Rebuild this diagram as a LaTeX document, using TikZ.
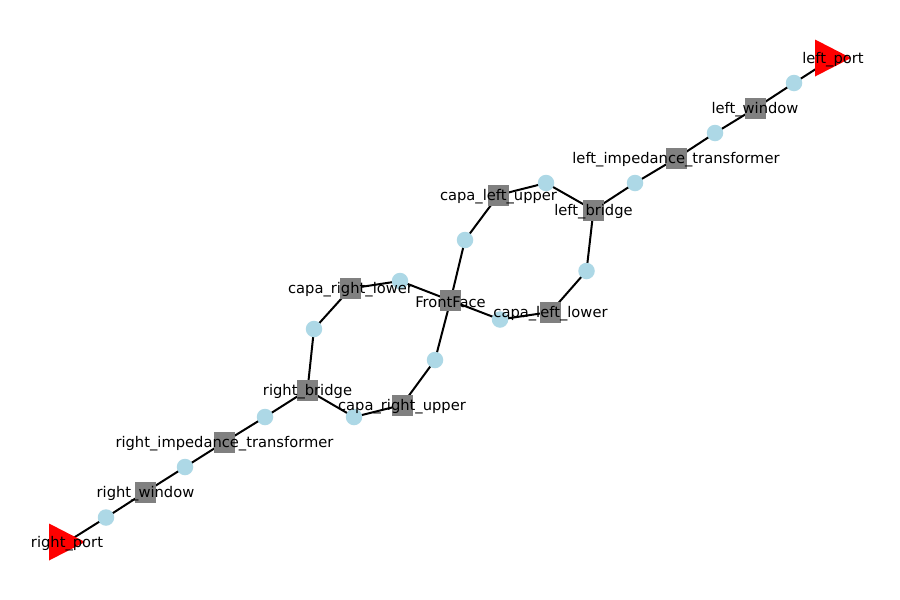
\documentclass[tikz,border=0pt]{standalone}
\usepackage{fontspec}
\setmainfont{DejaVu Sans}
\begin{document}
\begin{tikzpicture}[x=1pt,y=-1pt,
  edge/.style={black,line width=2pt},
  sq/.style={rectangle,fill={rgb,255:red,128;green,128;blue,128},minimum size=21pt,inner sep=0pt},
  dot/.style={circle,fill={rgb,255:red,173;green,216;blue,230},minimum size=16.5pt,inner sep=0pt},
  lbl/.style={inner sep=0pt,yshift=-1.5pt,font=\fontsize{14.7}{17}\selectfont}]
\useasboundingbox[fill=white] (0,0) rectangle (900,600);
% positions
\coordinate (lp) at (833,58);
\coordinate (c1) at (794,83);
\coordinate (lw) at (755,108.5);
\coordinate (c2) at (715,133);
\coordinate (lit) at (676,158.5);
\coordinate (c3) at (635,183);
\coordinate (lb) at (593.5,210);
\coordinate (c4) at (546,183);
\coordinate (clu) at (498.5,195);
\coordinate (c5) at (465,240);
\coordinate (ff) at (450.5,300.5);
\coordinate (c6) at (586.5,271);
\coordinate (cll) at (550.5,312);
\coordinate (c7) at (500,319.5);
\coordinate (c8) at (400,281);
\coordinate (crl) at (350.5,288.5);
\coordinate (c9) at (314,329);
\coordinate (c10) at (435,360);
\coordinate (cru) at (402,405);
\coordinate (c11) at (354,417);
\coordinate (rb) at (307.5,390);
\coordinate (c12) at (265,417);
\coordinate (rit) at (224.5,442);
\coordinate (c13) at (185,467);
\coordinate (rw) at (145.5,492);
\coordinate (c14) at (106,517.5);
\coordinate (rp) at (67,542);
% edges
\draw[edge] (lp) -- (c1) -- (lw) -- (c2) -- (lit) -- (c3) -- (lb);
\draw[edge] (lb) -- (c4) -- (clu) -- (c5) -- (ff);
\draw[edge] (lb) -- (c6) -- (cll) -- (c7) -- (ff);
\draw[edge] (ff) -- (c8) -- (crl) -- (c9) -- (rb);
\draw[edge] (ff) -- (c10) -- (cru) -- (c11) -- (rb);
\draw[edge] (rb) -- (c12) -- (rit) -- (c13) -- (rw) -- (c14) -- (rp);
% circles
\foreach \c in {c1,c2,c3,c4,c5,c6,c7,c8,c9,c10,c11,c12,c13,c14}
  \node[dot] (d-\c) at (\c) {};
% squares
\foreach \c in {lw,lit,lb,clu,ff,cll,crl,cru,rb,rit,rw}
  \node[sq] (s-\c) at (\c) {};
% triangles
\fill[red,shift={(lp)}] (18,0) -- (-18,-18.5) -- (-18,18.5) -- cycle;
\fill[red,shift={(rp)}] (18,0) -- (-18,-18.5) -- (-18,18.5) -- cycle;
% labels
\node[lbl] (t-lp) at (lp) {left\_port};
\node[lbl] (t-lw) at (lw) {left\_window};
\node[lbl] (t-lit) at (lit) {left\_impedance\_transformer};
\node[lbl] (t-lb) at (lb) {left\_bridge};
\node[lbl] (t-clu) at (clu) {capa\_left\_upper};
\node[lbl] (t-ff) at (ff) {FrontFace};
\node[lbl] (t-cll) at (cll) {capa\_left\_lower};
\node[lbl] (t-crl) at (crl) {capa\_right\_lower};
\node[lbl] (t-cru) at (cru) {capa\_right\_upper};
\node[lbl] (t-rb) at (rb) {right\_bridge};
\node[lbl] (t-rit) at (rit) {right\_impedance\_transformer};
\node[lbl] (t-rw) at (rw) {right\_window};
\node[lbl] (t-rp) at (rp) {right\_port};
\end{tikzpicture}
\end{document}
